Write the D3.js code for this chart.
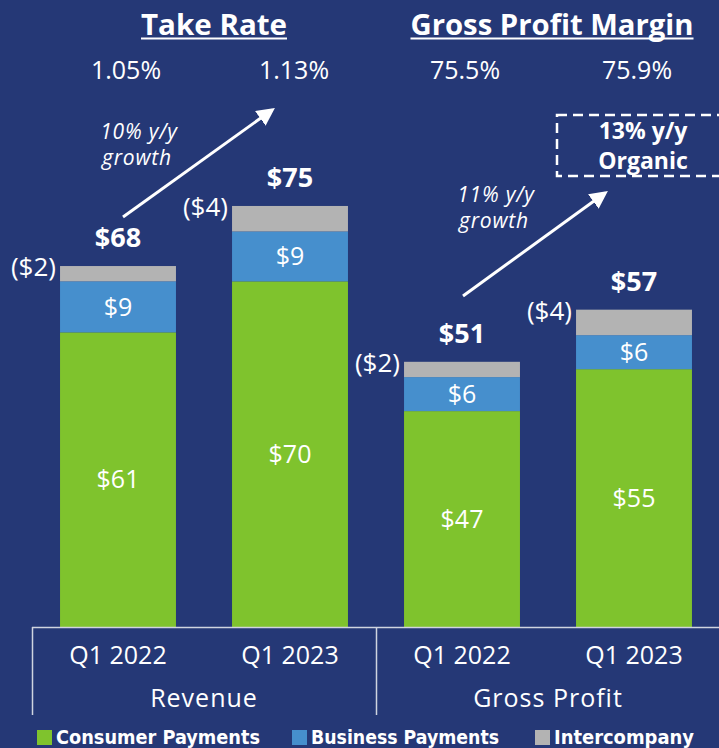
<!DOCTYPE html>
<html>
<head>
<meta charset="utf-8">
<style>
	body { margin: 0; background: #253876; }
	svg { display: block; font-family: 'Open Sans', sans-serif; }
	.seg-label { fill: #fff; text-anchor: middle; font-size: 25px; }
	.total { fill: #fff; text-anchor: middle; font-size: 27px; font-weight: bold; }
	.ic-label { fill: #fff; text-anchor: end; font-size: 26px; }
	.pct { fill: #fff; text-anchor: middle; font-size: 25px; }
	.title { fill: #fff; text-anchor: middle; font-size: 28px; font-weight: bold; }
	.box-txt { fill: #fff; text-anchor: middle; font-size: 23px; font-weight: bold; }
	.note { fill: #fff; text-anchor: middle; font-size: 21px; font-style: italic; letter-spacing: 0.8px; }
	.axis-txt { fill: #fff; text-anchor: middle; font-size: 25px; }
	.legend-txt { fill: #fff; font-size: 19px; font-weight: bold; font-family: 'Liberation Sans Narrow', 'DejaVu Sans Condensed', sans-serif; }
</style>
<script src="https://cdn.jsdelivr.net/npm/d3@7"></script>
</head>
<body>
<script>
var groups = ['Revenue', 'Revenue', 'Gross Profit', 'Gross Profit'];
var periods = ['Q1 2022', 'Q1 2023', 'Q1 2022', 'Q1 2023'];
var consumer = [61, 70, 47.1, 54.5];
var business = [9, 8.8, 6, 6];
var intercompany = [2.7, 4.5, 2.7, 4.5];
var consumerLabels = ['$61', '$70', '$47', '$55'];
var businessLabels = ['$9', '$9', '$6', '$6'];
var intercompanyLabels = ['($2)', '($4)', '($2)', '($4)'];
var totalLabels = ['$68', '$75', '$51', '$57'];
var ratioLabels = ['1.05%', '1.13%', '75.5%', '75.9%'];
var ratioTitles = ['Take Rate', 'Gross Profit Margin'];
var growthNotes = [['10% y/y', 'growth'], ['11% y/y', 'growth']];
var seriesNames = ['Consumer Payments', 'Business Payments', 'Intercompany'];
var colors = ['#7fc32d', '#468fcd', '#b3b3b3'];

var W = 719, H = 748;
var svg = d3.select('body').append('svg').attr('width', W).attr('height', H);
svg.append('rect').attr('width', W).attr('height', H).attr('fill', '#253876');

var keys = periods.map((p, i) => i);
var x = d3.scaleBand().domain(keys).range([32, 720]).paddingInner(0.326).paddingOuter(0.163);
var y = d3.scaleLinear().domain([9, 90]).range([627, 168]);
var bw = x.bandwidth();
var cx = i => x(i) + bw / 2;

var rows = keys.map(i => {
	var c0 = 9, c1 = consumer[i], b1 = c1 + business[i], g1 = b1 + intercompany[i];
	return [
		{i: i, s: 0, y0: c0, y1: c1, label: consumerLabels[i]},
		{i: i, s: 1, y0: c1, y1: b1, label: businessLabels[i]},
		{i: i, s: 2, y0: b1, y1: g1, label: null}
	];
});
var segs = rows.flat();

svg.append('g').selectAll('rect').data(segs).join('rect')
	.attr('x', d => x(d.i))
	.attr('width', bw)
	.attr('y', d => y(d.y1))
	.attr('height', d => y(d.y0) - y(d.y1))
	.attr('fill', d => colors[d.s]);

svg.append('g').selectAll('text').data(segs.filter(d => d.label)).join('text')
	.attr('class', 'seg-label')
	.attr('x', d => cx(d.i))
	.attr('y', d => (y(d.y0) + y(d.y1)) / 2)
	.attr('dy', '0.35em')
	.text(d => d.label);

// intercompany labels, left of bar
svg.append('g').selectAll('text').data(rows.map(r => r[2])).join('text')
	.attr('class', 'ic-label')
	.attr('x', d => x(d.i) - 4)
	.attr('y', d => y(d.y1) + 1)
	.attr('dy', '0.35em')
	.text(d => intercompanyLabels[d.i]);

// totals
svg.append('g').selectAll('text').data(rows.map(r => r[2])).join('text')
	.attr('class', 'total')
	.attr('x', d => cx(d.i))
	.attr('y', d => y(d.y1) - 19)
	.text(d => totalLabels[d.i]);

// ratio titles and values
var titleX = [214, 552], titleW = [146, 283];
ratioTitles.forEach((t, k) => {
	svg.append('text').attr('class', 'title').attr('x', titleX[k]).attr('y', 35)
		.attr('textLength', titleW[k]).attr('lengthAdjust', 'spacingAndGlyphs').text(t);
	svg.append('line').attr('x1', titleX[k] - titleW[k] / 2).attr('x2', titleX[k] + titleW[k] / 2)
		.attr('y1', 38.5).attr('y2', 38.5).attr('stroke', '#fff').attr('stroke-width', 2);
});
var pctX = [126, 294, 465, 637];
svg.append('g').selectAll('text').data(ratioLabels).join('text')
	.attr('class', 'pct')
	.attr('x', (d, i) => pctX[i])
	.attr('y', 79)
	.text(d => d);

// growth arrows
svg.append('defs').append('marker')
	.attr('id', 'ah').attr('viewBox', '0 0 10 10').attr('refX', 8).attr('refY', 5)
	.attr('markerWidth', 6).attr('markerHeight', 6).attr('orient', 'auto')
	.append('path').attr('d', 'M0,0L10,5L0,10z').attr('fill', '#fff');
var arrows = [
	{x1: cx(0) + 5, y1: 217, x2: cx(1) - 18, y2: 110, tx: 139, ty: 139},
	{x1: cx(2) + 1, y1: 296, x2: cx(3) - 29, y2: 193, tx: 496, ty: 202}
];
arrows.forEach((a, k) => {
	svg.append('line').attr('x1', a.x1).attr('y1', a.y1).attr('x2', a.x2).attr('y2', a.y2)
		.attr('stroke', '#fff').attr('stroke-width', 3).attr('marker-end', 'url(#ah)');
	growthNotes[k].forEach((s, j) => {
		svg.append('text').attr('class', 'note').attr('x', a.tx - j * 2).attr('y', a.ty + j * 26).text(s);
	});
});

// organic growth box
svg.append('rect').attr('x', 557).attr('y', 115).attr('width', 180).attr('height', 61)
	.attr('fill', 'none').attr('stroke', '#fff').attr('stroke-width', 2.5).attr('stroke-dasharray', '10,6');
svg.append('text').attr('class', 'box-txt').attr('x', 643).attr('y', 139).text('13% y/y');
svg.append('text').attr('class', 'box-txt').attr('x', 643).attr('y', 169).text('Organic');

// category axis
var axis = svg.append('g').attr('stroke', '#d0d4e0').attr('stroke-width', 1.5);
axis.append('line').attr('x1', 32).attr('x2', W).attr('y1', 627.5).attr('y2', 627.5);
axis.append('line').attr('x1', 32.5).attr('x2', 32.5).attr('y1', 627).attr('y2', 715);
axis.append('line').attr('x1', 376.5).attr('x2', 376.5).attr('y1', 627).attr('y2', 715);

svg.append('g').selectAll('text').data(periods).join('text')
	.attr('class', 'axis-txt')
	.attr('x', (d, i) => cx(i))
	.attr('y', 655).attr('dy', '0.35em')
	.text(d => d);

var groupNames = Array.from(new Set(groups));
svg.append('g').selectAll('text').data(groupNames).join('text')
	.attr('class', 'axis-txt')
	.style('letter-spacing', '1px')
	.attr('x', g => {
		var idx = keys.filter(i => groups[i] === g);
		return (x(idx[0]) - x.step() * x.paddingInner() / 2 + x(idx[idx.length - 1]) + bw + x.step() * x.paddingInner() / 2) / 2;
	})
	.attr('y', 698).attr('dy', '0.35em')
	.text(g => g);

// legend
var legX = [37, 292, 535], legW = [204, 188, 140];
var leg = svg.append('g').selectAll('g').data(seriesNames).join('g')
	.attr('transform', (d, i) => 'translate(' + legX[i] + ',730)');
leg.append('rect').attr('width', 15).attr('height', 15).attr('fill', (d, i) => colors[i]);
leg.append('text').attr('class', 'legend-txt').attr('x', 19).attr('y', 14)
	.attr('textLength', (d, i) => legW[i]).attr('lengthAdjust', 'spacingAndGlyphs')
	.text(d => d);
</script>
</body>
</html>
